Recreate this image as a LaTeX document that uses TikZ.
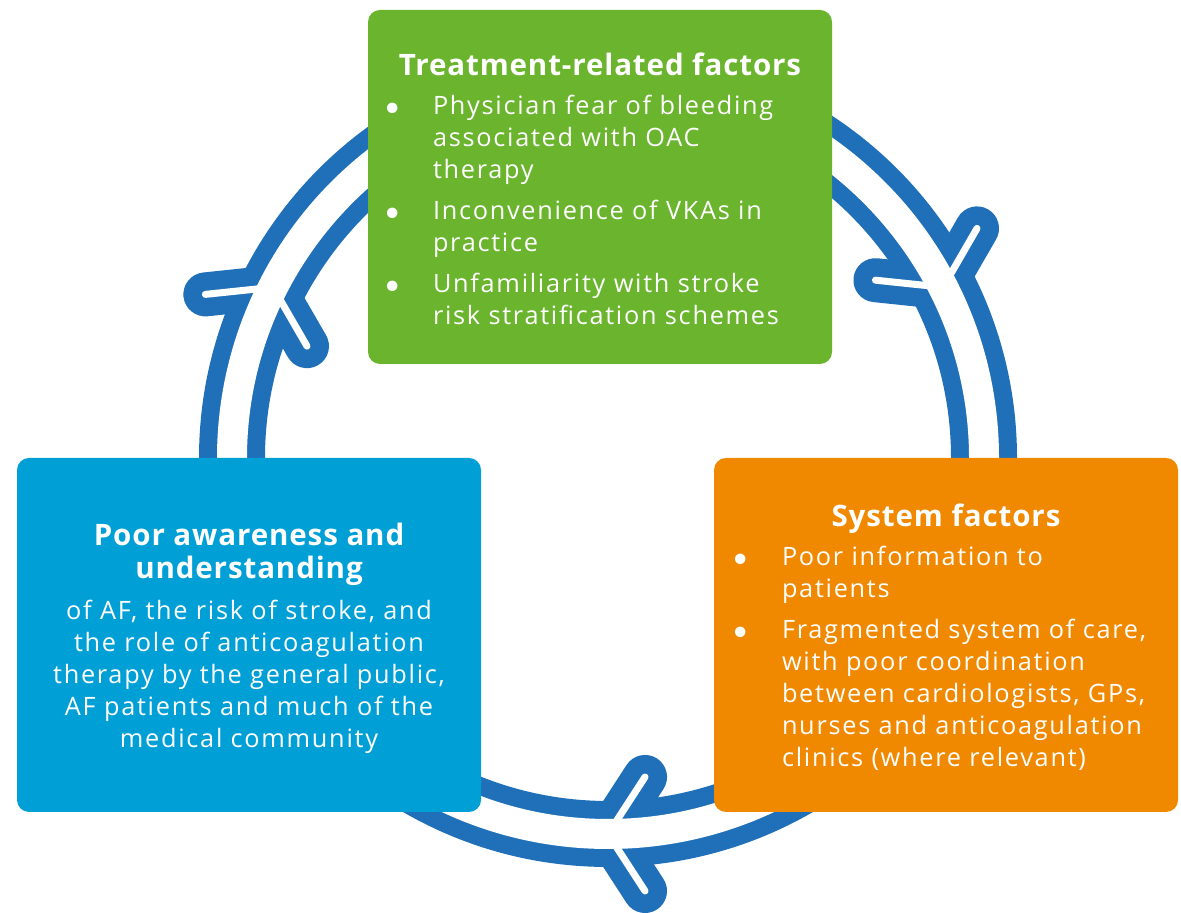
\documentclass[tikz,border=0pt]{standalone}
\usepackage{fontspec}
\setmainfont{Open Sans}
\usetikzlibrary{positioning,calc}
\definecolor{ringblue}{RGB}{31,112,184}
\definecolor{treatgreen}{RGB}{106,180,46}
\definecolor{awareblue}{RGB}{0,159,214}
\definecolor{sysorange}{RGB}{240,137,0}
\newcommand\bodyfont{\fontsize{7.2}{9.1}\selectfont\addfontfeature{LetterSpace=6.8}}
\newcommand\headfont{\fontsize{8.4}{9.4}\selectfont\bfseries\addfontfeature{LetterSpace=3}}
\newcommand\blt{$\bullet$}
\begin{document}
\begin{tikzpicture}[
  box/.style={rounded corners=0.12cm,minimum width=4.64cm,minimum height=3.54cm,inner sep=0pt},
  head/.style={anchor=base,text=white,font=\headfont,inner sep=0pt},
  body/.style={text=white,font=\bodyfont,inner sep=0pt},
  band/.style={ringblue,line width=0.66cm},
  arm/.style={ringblue,line width=0.44cm,line cap=round,line join=round},
  groove/.style={white,line width=0.30cm},
  armgroove/.style={white,line width=0.07cm,line cap=round,line join=round}]
\useasboundingbox (0,0) rectangle (11.81,9.13);
\coordinate (ring) at (6.08,4.55);
\draw[band] (ring) circle (3.76);
\foreach \a in {27,153,270}{
  \coordinate (tip\a) at ($(ring)+(\a:3.76)$);
  \coordinate (tip\a-out) at ($(tip\a)+(\a+33:0.68)$);
  \coordinate (tip\a-in) at ($(tip\a)+(\a+147:0.68)$);
  \draw[arm] (tip\a-out) -- (tip\a) -- (tip\a-in);
}
\draw[groove] (ring) circle (3.76);
\foreach \a in {27,153,270}
  \draw[armgroove] (tip\a-out) -- (tip\a) -- (tip\a-in);
\node[box,fill=treatgreen] (treat) at (6.00,7.26) {};
\node[box,fill=awareblue] (aware) at (2.49,2.78) {};
\node[box,fill=sysorange] (system) at (9.46,2.78) {};
\node[head] (treat-head) at ([yshift=-0.66cm]treat.north) {Treatment-related factors};
\node[body,anchor=base west] (treat-list) at ([xshift=0.17cm,yshift=-1.05cm]treat.north west) {%
\begin{tabular}[t]{@{}p{0.48cm}@{}l@{}}
\blt&Physician fear of bleeding\\
&associated with OAC\\
&therapy\\[0.09cm]
\blt&Inconvenience of VKAs in\\
&practice\\[0.09cm]
\blt&Unfamiliarity with stroke\\
&risk stratification schemes
\end{tabular}};
\node[head] (system-head) at ([yshift=-0.69cm]system.north) {System factors};
\node[body,anchor=base west] (system-list) at ([xshift=0.19cm,yshift=-1.08cm]system.north west) {%
\begin{tabular}[t]{@{}p{0.49cm}@{}l@{}}
\blt&Poor information to\\
&patients\\[0.09cm]
\blt&Fragmented system of care,\\
&with poor coordination\\
&between cardiologists, GPs,\\
&nurses and anticoagulation\\
&clinics (where relevant)
\end{tabular}};
\node[head] (aware-head) at ([yshift=-0.88cm]aware.north) {%
\begin{tabular}[t]{@{}c@{}}Poor awareness and\\understanding\end{tabular}};
\node[body,anchor=base] (aware-text) at ([yshift=-1.62cm]aware.north) {%
\begin{tabular}[t]{@{}c@{}}
of AF, the risk of stroke, and\\
the role of anticoagulation\\
therapy by the general public,\\
AF patients and much of the\\
medical community
\end{tabular}};
\end{tikzpicture}
\end{document}
